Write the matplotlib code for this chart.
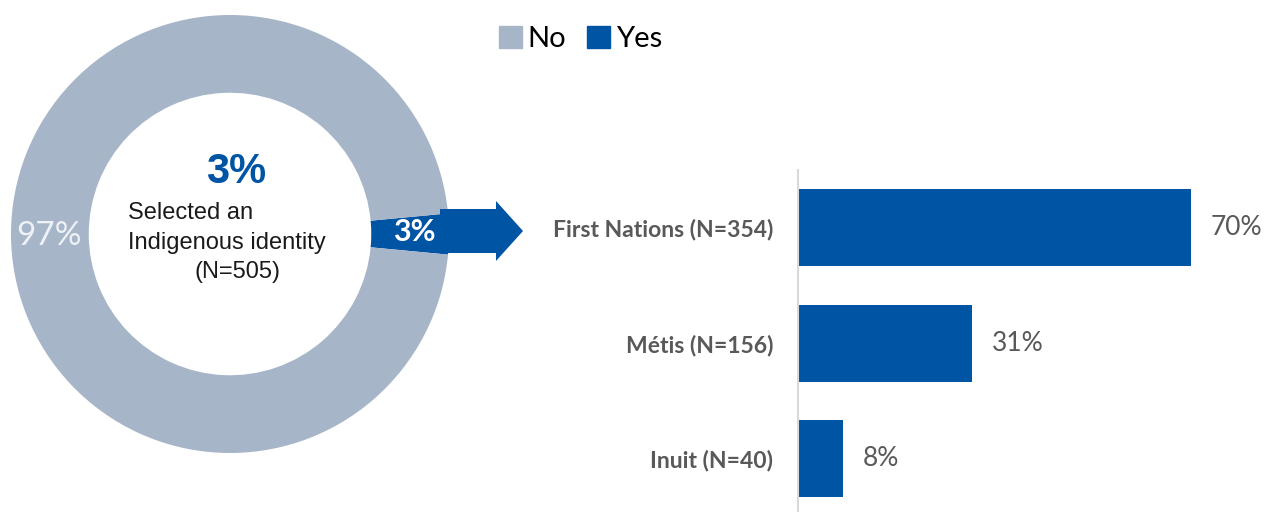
import numpy as np
import matplotlib
matplotlib.use('Agg')
import matplotlib.pyplot as plt
from matplotlib.patches import FancyArrow, Patch

# identity split (share of respondents)
identity_labels = ['Yes', 'No']
identity_values = [3, 97]

# breakdown of those who selected an Indigenous identity
groups = ['First Nations (N=354)', 'Métis (N=156)', 'Inuit (N=40)']
group_pct = [70, 31, 8]

GREY = '#a7b5c9'
BLUE = '#0054a4'
TEXT_GREY = '#595959'

fig = plt.figure(figsize=(12.73, 5.12), dpi=100)

# donut drawn in a pixel-space axes covering the figure
ax = fig.add_axes([0, 0, 1, 1])
cx, cy, r = 230, 234, 219
yes_angle = identity_values[0] / sum(identity_values) * 360
ax.pie(identity_values, colors=[BLUE, GREY], startangle=-yes_angle / 2,
       center=(cx, cy), radius=r, counterclock=True,
       wedgeprops=dict(width=r * 0.355, linewidth=0))
ax.set_xlim(0, 1273)
ax.set_ylim(512, 0)
ax.set_aspect('equal')
ax.axis('off')

# arrow leading from the Yes slice to the bar chart
ax.add_patch(FancyArrow(440, 231, 83, 0, width=44, head_width=60,
                        head_length=27, length_includes_head=True,
                        color=BLUE, linewidth=0))

ax.text(49, 236, f'{identity_values[1]}%', color='#eef1f5', fontsize=24,
        family='Lato', ha='center', va='center')
ax.text(414, 232, f'{identity_values[0]}%', color='white', fontsize=22,
        family='Lato', fontweight='bold', ha='center', va='center')

ax.text(236, 172, f'{identity_values[0]}%', color=BLUE, fontsize=30,
        family='Liberation Sans', fontweight='bold', ha='center', va='center')
ax.text(128, 213, 'Selected an', color='#1a1a1a', fontsize=17,
        family='Liberation Sans', ha='left', va='center')
ax.text(128, 243, 'Indigenous identity', color='#1a1a1a', fontsize=17,
        family='Liberation Sans', ha='left', va='center')
ax.text(237, 272, '(N=505)', color='#1a1a1a', fontsize=17,
        family='Liberation Sans', ha='center', va='center')

# legend
handles = [Patch(color=GREY, label='No'), Patch(color=BLUE, label='Yes')]
fig.legend(handles=handles, loc='upper left', bbox_to_anchor=(487 / 1273, 1 - 14 / 512),
           ncol=2, frameon=False, handlelength=0.8, handleheight=0.8,
           handletextpad=0.2, columnspacing=0.7, borderaxespad=0,
           prop={'family': 'Lato', 'size': 21})

# horizontal bars
bx = fig.add_axes([798 / 1273, -4.5 / 512, 475 / 1273, 346.5 / 512])
y = np.arange(len(groups))
bx.barh(y, group_pct, height=0.667, color=BLUE)
bx.set_ylim(2.5, -0.5)
bx.set_xlim(0, 475 / 5.61)
for i, v in enumerate(group_pct):
    bx.text(v + 3.5, i, f'{v}%', color=TEXT_GREY, fontsize=19, family='Lato',
            ha='left', va='center')
bx.set_yticks(y)
bx.set_yticklabels(groups, fontsize=16.5, fontweight='bold', family='Lato',
                   color=TEXT_GREY)
bx.tick_params(axis='y', length=0, pad=18)
bx.set_xticks([])
for s in ['top', 'right', 'bottom']:
    bx.spines[s].set_visible(False)
bx.spines['left'].set_color('#d9d9d9')
bx.spines['left'].set_linewidth(1.5)

plt.savefig('out.png', dpi=100)
